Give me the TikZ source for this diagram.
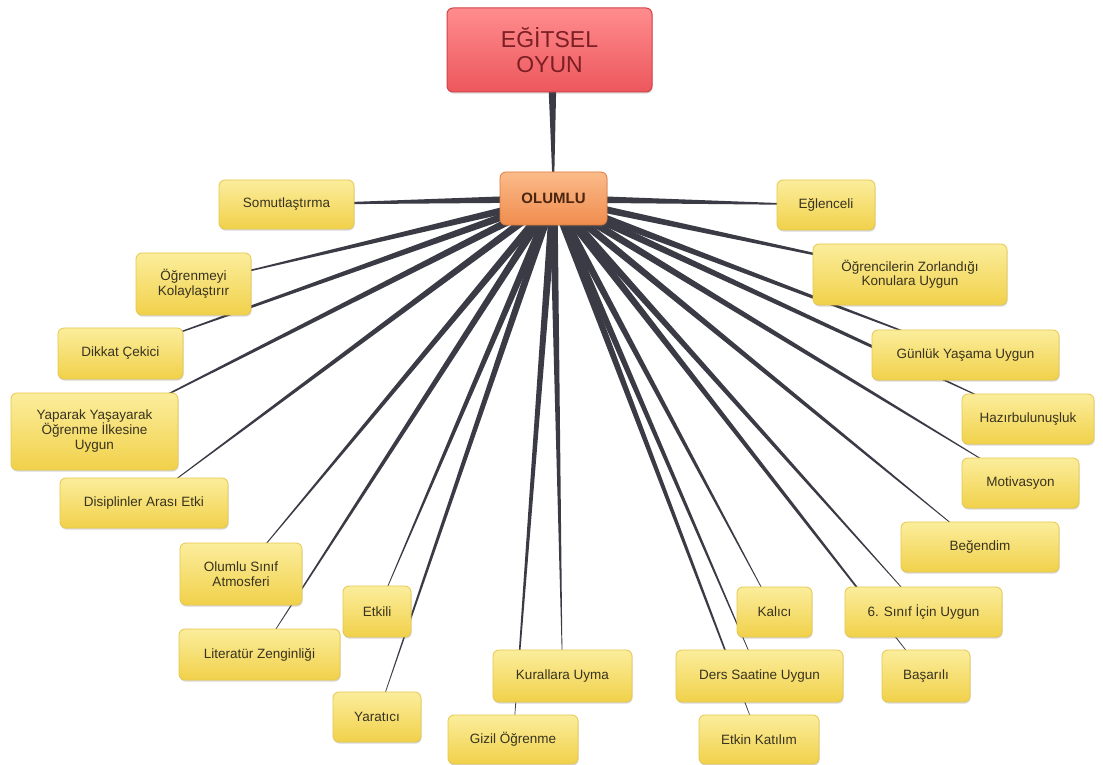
\documentclass[tikz,border=0pt]{standalone}
\usepackage{fontspec}
\setmainfont{Liberation Sans}
\usetikzlibrary{calc,shadows}
\pgfdeclarelayer{paper}
\pgfdeclarelayer{bg}
\pgfsetlayers{paper,bg,main}

\definecolor{leaftop}{HTML}{FBED9C}
\definecolor{leafbot}{HTML}{F1D14A}
\definecolor{leafline}{HTML}{E6C74C}
\definecolor{leaftext}{HTML}{38331F}
\definecolor{hubtop}{HTML}{FBBB8A}
\definecolor{hubbot}{HTML}{F08C4E}
\definecolor{hubline}{HTML}{DD7A3C}
\definecolor{hubtext}{HTML}{4A2510}
\definecolor{roottop}{HTML}{FF8C8E}
\definecolor{rootbot}{HTML}{EC575C}
\definecolor{rootline}{HTML}{D44247}
\definecolor{roottext}{HTML}{7B1F24}
\definecolor{connfill}{HTML}{3A3B45}

% tapered connector: wide at the parent, narrow at the child
\newcommand\taper[4]{%
  \fill[connfill] ($(#1.center)!#3!90:(#2.center)$)
    -- ($(#2.center)!#4!-90:(#1.center)$)
    -- ($(#2.center)!#4!90:(#1.center)$)
    -- ($(#1.center)!#3!-90:(#2.center)$) -- cycle;}

\begin{document}
\begin{tikzpicture}[x=1pt,y=-1pt,
  box/.style={rectangle, rounded corners=6pt, inner sep=2pt, align=center,
    drop shadow={shadow xshift=0.6pt, shadow yshift=-1.6pt, opacity=0.25, fill=black!60}},
  leaf/.style={box, top color=leaftop, bottom color=leafbot, draw=leafline,
    line width=0.8pt, text=leaftext, font=\fontsize{13.5}{14.5}\selectfont},
  hub/.style={box, top color=hubtop, bottom color=hubbot, draw=hubline,
    line width=0.8pt, text=hubtext, font=\fontsize{15}{17}\selectfont\bfseries},
  root/.style={box, top color=roottop, bottom color=rootbot, draw=rootline,
    line width=1pt, text=roottext, font=\fontsize{23}{25}\selectfont}]
\begin{pgfonlayer}{paper}
  \useasboundingbox[fill=white] (0,0) rectangle (1103,762);
\end{pgfonlayer}

% central nodes
\node[root, minimum width=205pt, minimum height=84pt] (root) at (549.5,50) {EĞİTSEL\\OYUN};
\node[hub, minimum width=107pt, minimum height=53pt] (olumlu) at (553.5,198.5) {OLUMLU};
\coordinate (stem) at (552,50);

% left side
\node[leaf, minimum width=135pt, minimum height=49pt] (somut) at (286.5,204.5) {Somutlaştırma};
\node[leaf, minimum width=115pt, minimum height=62pt] (ogren) at (193.5,284) {Öğrenmeyi\\Kolaylaştırır};
\node[leaf, minimum width=125pt, minimum height=51pt] (dikkat) at (120.5,353.5) {Dikkat Çekici};
\node[leaf, minimum width=167pt, minimum height=77pt, font=\fontsize{13.5}{15}\selectfont] (yaparak) at (94.5,431.5) {Yaparak Yaşayarak\\Öğrenme İlkesine\\Uygun};
\node[leaf, minimum width=168pt, minimum height=50pt] (disiplin) at (144,503) {Disiplinler Arası Etki};
\node[leaf, minimum width=122pt, minimum height=62pt] (atmosfer) at (241,574) {Olumlu Sınıf\\Atmosferi};
\node[leaf, minimum width=161pt, minimum height=51pt] (literatur) at (259.5,654.5) {Literatür Zenginliği};
\node[leaf, minimum width=68pt, minimum height=51pt] (etkili) at (377,611.5) {Etkili};
\node[leaf, minimum width=88pt, minimum height=50pt] (yaratici) at (377,717) {Yaratıcı};

% bottom
\node[leaf, minimum width=139pt, minimum height=52pt] (kurallar) at (562.5,676) {Kurallara Uyma};
\node[leaf, minimum width=130pt, minimum height=49pt] (gizil) at (513,739.5) {Gizil Öğrenme};
\node[leaf, minimum width=167pt, minimum height=52pt] (ders) at (759.5,676) {Ders Saatine Uygun};
\node[leaf, minimum width=120pt, minimum height=49pt] (etkin) at (759,739.5) {Etkin Katılım};
\node[leaf, minimum width=75pt, minimum height=50pt] (kalici) at (774.5,612) {Kalıcı};

% right side
\node[leaf, minimum width=157pt, minimum height=50pt] (altinci) at (923.5,612) {6. Sınıf İçin Uygun};
\node[leaf, minimum width=88pt, minimum height=52pt] (basarili) at (926,676) {Başarılı};
\node[leaf, minimum width=158pt, minimum height=50pt] (begendim) at (980,547) {Beğendim};
\node[leaf, minimum width=117pt, minimum height=50pt] (motivasyon) at (1020.5,483) {Motivasyon};
\node[leaf, minimum width=132pt, minimum height=50pt] (hazir) at (1028,419) {Hazırbulunuşluk};
\node[leaf, minimum width=187pt, minimum height=50pt] (gunluk) at (965.5,355) {Günlük Yaşama Uygun};
\node[leaf, minimum width=194pt, minimum height=61pt] (zorlandigi) at (910,274.5) {Öğrencilerin Zorlandığı\\Konulara Uygun};
\node[leaf, minimum width=98pt, minimum height=50pt] (eglenceli) at (826,205) {Eğlenceli};

% connectors, drawn underneath the boxes
\begin{pgfonlayer}{bg}
  \taper{stem}{olumlu}{5pt}{0.3pt}
  \foreach \n in {somut,ogren,dikkat,yaparak,disiplin,atmosfer,literatur,etkili,yaratici,
                  kurallar,gizil,ders,etkin,kalici,altinci,basarili,begendim,motivasyon,
                  hazir,gunluk,zorlandigi,eglenceli}
    {\taper{olumlu}{\n}{4pt}{0.15pt}}
\end{pgfonlayer}
\end{tikzpicture}
\end{document}
